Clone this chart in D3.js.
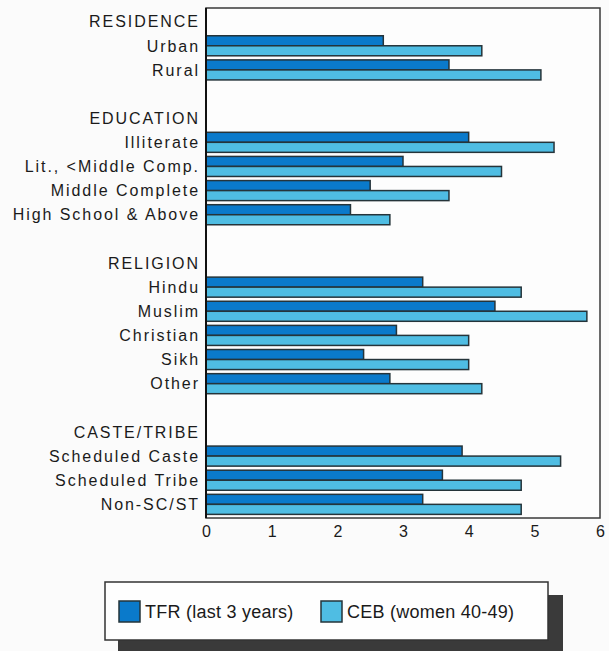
<!DOCTYPE html>
<html>
<head>
<meta charset="utf-8">
<script src="https://cdn.jsdelivr.net/npm/d3@7"></script>
<style>
	body { margin: 0; background: #fbfbfb; }
	svg { display: block; font-family: "Liberation Sans", Arial, sans-serif; }
</style>
</head>
<body>
<svg></svg>
<script>
var WIDTH = 609;
var HEIGHT = 651;

// group headings and the categories under each one
var groupNames = ['RESIDENCE', 'EDUCATION', 'RELIGION', 'CASTE/TRIBE'];
var groupCategories = [
	['Urban', 'Rural'],
	['Illiterate', 'Lit., <Middle Comp.', 'Middle Complete', 'High School & Above'],
	['Hindu', 'Muslim', 'Christian', 'Sikh', 'Other'],
	['Scheduled Caste', 'Scheduled Tribe', 'Non-SC/ST']
];
// values in the same order as the categories above
var tfr = [2.7, 3.7, 4.0, 3.0, 2.5, 2.2, 3.3, 4.4, 2.9, 2.4, 2.8, 3.9, 3.6, 3.3];
var ceb = [4.2, 5.1, 5.3, 4.5, 3.7, 2.8, 4.8, 5.8, 4.0, 4.0, 4.2, 5.4, 4.8, 4.8];
var seriesNames = ['TFR (last 3 years)', 'CEB (women 40-49)'];
var xTicks = [0, 1, 2, 3, 4, 5, 6];

var colors = { tfr: '#0a7acb', ceb: '#4fbde3' };

var plotLeft = 206, plotRight = 600, plotTop = 8, plotBottom = 518;

var svg = d3.select('svg')
	.attr('width', WIDTH)
	.attr('height', HEIGHT);

// build slot list: header, categories, spacer
var slots = [];
var rows = [];
var k = 0;
groupNames.forEach(function(g, gi){
	slots.push({key: 'h' + gi, type: 'header', label: g});
	groupCategories[gi].forEach(function(c){
		var row = {key: 'c' + k, type: 'row', label: c, tfr: tfr[k], ceb: ceb[k]};
		slots.push(row);
		rows.push(row);
		k++;
	});
	if(gi < groupNames.length - 1) slots.push({key: 's' + gi, type: 'spacer', label: ''});
});

var x = d3.scaleLinear().domain([0, 6]).range([plotLeft, plotRight]);
var y = d3.scaleBand()
	.domain(slots.map(function(d){ return d.key; }))
	.range([plotTop, plotBottom])
	.paddingInner(0.17)
	.paddingOuter(0.15);
var ySub = d3.scaleBand().domain(['tfr', 'ceb']).range([0, y.bandwidth()]);

// frame
svg.append('rect')
	.attr('x', plotLeft).attr('y', plotTop)
	.attr('width', plotRight - plotLeft).attr('height', plotBottom - plotTop)
	.attr('fill', '#fdfdfd')
	.attr('stroke', '#3a3a3a')
	.attr('stroke-width', 1.5);

// bars
var groups = svg.append('g').selectAll('g')
	.data(rows)
	.enter().append('g')
	.attr('transform', function(d){ return 'translate(0,' + y(d.key) + ')'; });

groups.selectAll('rect')
	.data(function(d){ return [{s: 'tfr', v: d.tfr}, {s: 'ceb', v: d.ceb}]; })
	.enter().append('rect')
	.attr('x', x(0))
	.attr('y', function(d){ return ySub(d.s); })
	.attr('width', function(d){ return x(d.v) - x(0); })
	.attr('height', ySub.bandwidth())
	.attr('fill', function(d){ return colors[d.s]; })
	.attr('stroke', '#25343a')
	.attr('stroke-width', 1.5);

// left axis line
svg.append('line')
	.attr('x1', plotLeft).attr('x2', plotLeft)
	.attr('y1', plotTop).attr('y2', plotBottom)
	.attr('stroke', '#111')
	.attr('stroke-width', 2);

// category + header labels
svg.append('g').selectAll('text')
	.data(slots.filter(function(d){ return d.type !== 'spacer'; }))
	.enter().append('text')
	.attr('x', 200)
	.attr('y', function(d){ return y(d.key) + y.bandwidth() / 2; })
	.attr('dy', '0.36em')
	.attr('text-anchor', 'end')
	.attr('font-size', 16)
	.attr('letter-spacing', 1.95)
	.attr('fill', '#1a1a1a')
	.text(function(d){ return d.label; });

// x axis
var bottomAxis = d3.axisBottom(x).tickValues(xTicks).tickSize(0).tickPadding(8).tickFormat(d3.format('d'));
var xAxis = svg.append('g')
	.attr('transform', 'translate(0,' + plotBottom + ')')
	.call(bottomAxis);
xAxis.select('.domain').remove();
xAxis.selectAll('text')
	.attr('font-size', 16)
	.attr('font-family', '"Liberation Sans", Arial, sans-serif')
	.attr('fill', '#1a1a1a');

// legend
var legend = svg.append('g');
legend.append('rect')
	.attr('x', 118).attr('y', 595)
	.attr('width', 445).attr('height', 60)
	.attr('fill', '#3a3a3a');
legend.append('rect')
	.attr('x', 105).attr('y', 582)
	.attr('width', 443).attr('height', 58)
	.attr('fill', '#fefefe')
	.attr('stroke', '#333')
	.attr('stroke-width', 1.5);

var legendX = [119, 321];
var legendItems = legend.selectAll('g.item')
	.data(seriesNames)
	.enter().append('g')
	.attr('class', 'item')
	.attr('transform', function(d, i){ return 'translate(' + legendX[i] + ',601)'; });
legendItems.append('rect')
	.attr('width', 21).attr('height', 21)
	.attr('fill', function(d, i){ return i === 0 ? colors.tfr : colors.ceb; })
	.attr('stroke', '#25343a')
	.attr('stroke-width', 1.5);
legendItems.append('text')
	.attr('x', 26)
	.attr('y', 17)
	.attr('font-size', 18)
	.attr('letter-spacing', 0.25)
	.attr('fill', '#1a1a1a')
	.text(function(d){ return d; });
</script>
</body>
</html>
